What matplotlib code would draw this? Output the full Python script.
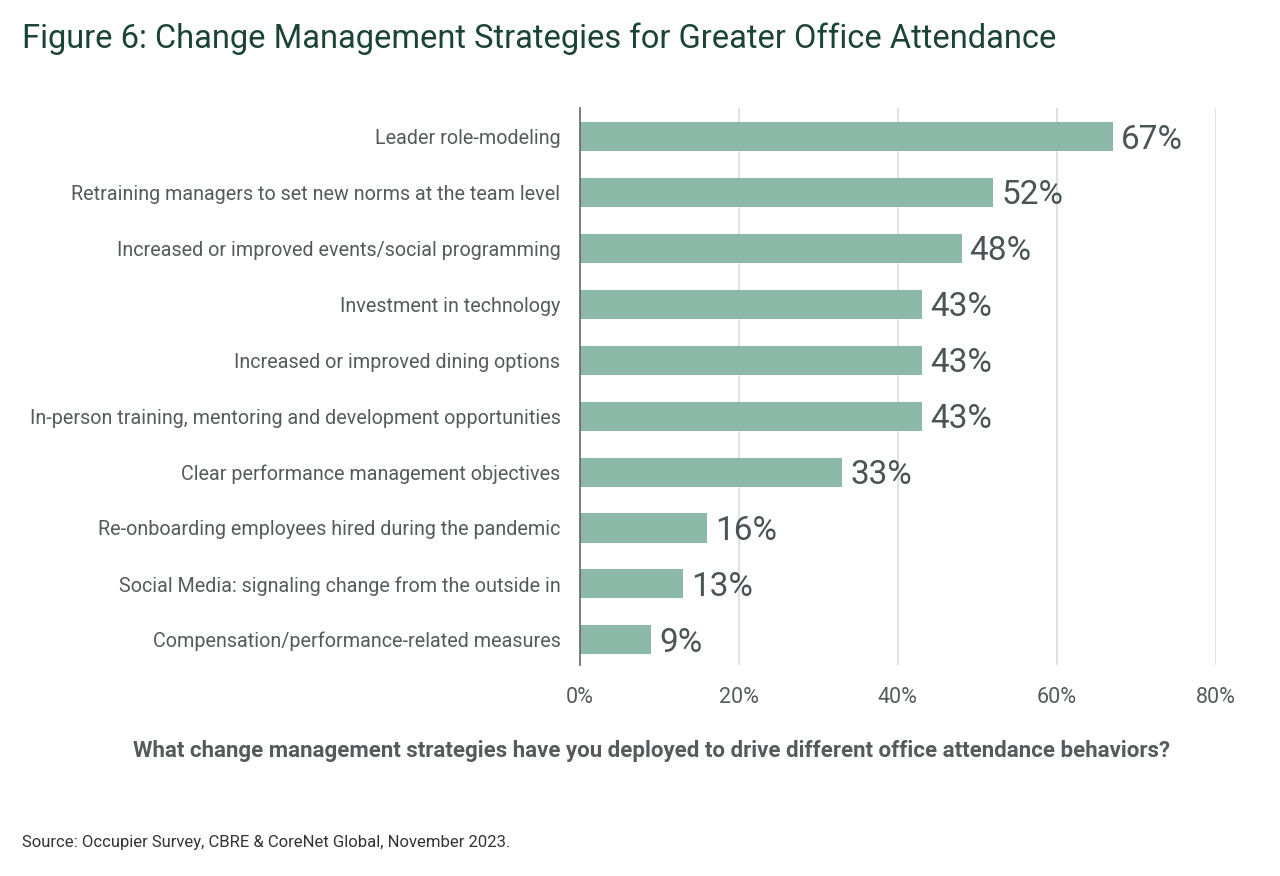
import matplotlib.pyplot as plt
from matplotlib.ticker import FuncFormatter

#data
strategies = [
    "Leader role-modeling",
    "Retraining managers to set new norms at the team level",
    "Increased or improved events/social programming",
    "Investment in technology",
    "Increased or improved dining options",
    "In-person training, mentoring and development opportunities",
    "Clear performance management objectives",
    "Re-onboarding employees hired during the pandemic",
    "Social Media: signaling change from the outside in",
    "Compensation/performance-related measures",
]
shares = [67, 52, 48, 43, 43, 43, 33, 16, 13, 9]
xticks = [0, 20, 40, 60, 80]

plt.rcParams['font.family'] = ['Roboto', 'DejaVu Sans']

bar_col = '#8db9a9'
txt_col = '#555b5d'
title_col = '#1b4532'

fig = plt.figure(figsize=(12.8, 8.76), dpi=100)
ax = fig.add_axes([0.453, 0.241, 0.497, 0.636])

pos = list(range(len(strategies)))
ax.barh(pos, shares, height=0.52, color=bar_col, zorder=2)
for y, v in zip(pos, shares):
    ax.text(v + 1.0, y + 0.05, str(v) + "%", va='center', ha='left',
            fontsize=24, color='#4a5456', zorder=3)

ax.set_ylim(9.45, -0.52)
ax.set_xlim(0, 80)
ax.set_yticks(pos)
ax.set_yticklabels(strategies, fontsize=14.2, color=txt_col)
ax.set_xticks(xticks)
ax.xaxis.set_major_formatter(FuncFormatter(lambda x, p: "%d%%" % x))
ax.tick_params(axis='x', labelsize=15.5, colors=txt_col, length=0, pad=16)
ax.tick_params(axis='y', length=0, pad=14)

ax.grid(axis='x', color='#dcdcdc', linewidth=1.2, zorder=0)
for s in ['top', 'right', 'bottom']:
    ax.spines[s].set_visible(False)
ax.spines['left'].set_color('#666666')
ax.spines['left'].set_linewidth(1.2)

fig.text(0.017, 0.956, "Figure 6: Change Management Strategies for Greater Office Attendance",
         fontsize=23.5, color=title_col, va='center', ha='left')
fig.text(0.509, 0.143, "What change management strategies have you deployed to drive different office attendance behaviors?",
         fontsize=16, color=txt_col, fontweight='bold', va='center', ha='center')
fig.text(0.017, 0.038, "Source: Occupier Survey, CBRE & CoreNet Global, November 2023.",
         fontsize=12, color='#333333', va='center', ha='left')

plt.savefig("out.png", dpi=100)
